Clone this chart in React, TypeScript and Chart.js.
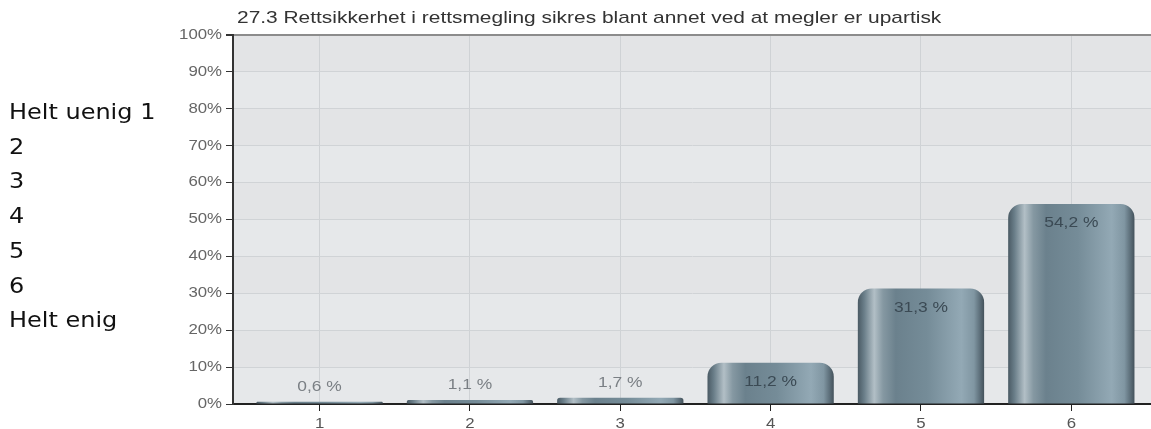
import React, { useEffect, useRef } from "react";
import { Chart, registerables } from "chart.js";

Chart.register(...registerables);

const titleText = "27.3 Rettsikkerhet i rettsmegling sikres blant annet ved at megler er upartisk";
const sideLabels = ["Helt uenig 1", "2", "3", "4", "5", "6", "Helt enig"];
const categories = [1, 2, 3, 4, 5, 6];
const xTickLabels = ["1", "2", "3", "4", "5", "6"];
const values = [0.6, 1.1, 1.7, 11.2, 31.3, 54.2];
const yTicks = [0, 10, 20, 30, 40, 50, 60, 70, 80, 90, 100];

const BAR_PCT = 0.84;
const SX = 1.2;
const FONT = "'Liberation Sans', Arial, sans-serif";

function drawStretched(ctx: any, text: string, x: number, y: number, align: string, sx: number) {
  ctx.save();
  ctx.translate(x, y);
  ctx.scale(sx, 1);
  ctx.textAlign = align;
  ctx.textBaseline = "middle";
  ctx.fillText(text, 0, 0);
  ctx.restore();
}

const bgPlugin = {
  id: "bgBands",
  beforeDraw(chart: any) {
    const { ctx, chartArea } = chart;
    const ys = chart.scales.y;
    ctx.save();
    for (let i = 0; i < yTicks.length - 1; i++) {
      const y1 = ys.getPixelForValue(yTicks[i + 1]);
      const y0 = ys.getPixelForValue(yTicks[i]);
      ctx.fillStyle = i % 2 === 0 ? "#e6e8ea" : "#e3e4e6";
      ctx.fillRect(chartArea.left, y1, chartArea.right - chartArea.left, y0 - y1);
    }
    ctx.restore();
  },
};

const textPlugin = {
  id: "texts",
  afterDraw(chart: any) {
    const { ctx, chartArea } = chart;
    const xs = chart.scales.x;
    const ys = chart.scales.y;
    ctx.save();
    // title
    ctx.font = "17px " + FONT;
    ctx.fillStyle = "#333";
    drawStretched(ctx, titleText, chartArea.left + 4, 18, "left", 1.23);
    // y tick labels
    ctx.font = "14px " + FONT;
    ctx.fillStyle = "#666";
    yTicks.forEach((v) => {
      drawStretched(ctx, v + "%", chartArea.left - 11, ys.getPixelForValue(v), "right", SX);
    });
    // x tick labels
    ctx.fillStyle = "#555";
    categories.forEach((c, i) => {
      drawStretched(ctx, xTickLabels[i], xs.getPixelForValue(c), chartArea.bottom + 20, "center", SX);
    });
    ctx.restore();
  },
};

const labelPlugin = {
  id: "valueLabels",
  afterDatasetsDraw(chart: any) {
    const { ctx } = chart;
    const meta = chart.getDatasetMeta(0);
    ctx.save();
    ctx.font = "14.5px " + FONT;
    meta.data.forEach((el: any, i: number) => {
      const txt = values[i].toFixed(1).replace(".", ",") + " %";
      const h = el.base - el.y;
      if (h > 30) {
        ctx.fillStyle = "#3b4a54";
        drawStretched(ctx, txt, el.x, el.y + 19, "center", SX);
      } else {
        ctx.fillStyle = "#7a7f84";
        drawStretched(ctx, txt, el.x, el.y - 15, "center", SX);
      }
    });
    ctx.restore();
  },
};

function barFill(c: any) {
  const chart = c.chart;
  const xs = chart.scales && chart.scales.x;
  if (!xs || c.type !== "data" || !chart.chartArea) return "#6f8693";
  const xv = c.raw && typeof c.raw === "object" ? c.raw.x : categories[c.dataIndex];
  const cx = xs.getPixelForValue(xv);
  const w = (xs.getPixelForValue(2) - xs.getPixelForValue(1)) * BAR_PCT;
  const l = cx - w / 2;
  const g = chart.ctx.createLinearGradient(l, 0, l + w, 0);
  g.addColorStop(0, "#4a5a64");
  g.addColorStop(0.05, "#6a7e89");
  g.addColorStop(0.13, "#b2bfc6");
  g.addColorStop(0.2, "#8598a2");
  g.addColorStop(0.3, "#6b818d");
  g.addColorStop(0.55, "#758c98");
  g.addColorStop(0.82, "#93a9b5");
  g.addColorStop(0.92, "#8096a2");
  g.addColorStop(0.97, "#5a6c77");
  g.addColorStop(1, "#44525b");
  return g;
}

export default function App() {
  const ref = useRef<HTMLCanvasElement | null>(null);

  useEffect(() => {
    if (!ref.current) return;
    const chart = new Chart(ref.current, {
      type: "bar",
      data: {
        datasets: [
          {
            data: categories.map((c, i) => ({ x: c, y: values[i] })),
            backgroundColor: barFill,
            borderWidth: 0,
            borderRadius: 14,
            borderSkipped: "bottom",
            barPercentage: BAR_PCT,
            categoryPercentage: 1,
          } as any,
        ],
      },
      options: {
        responsive: false,
        animation: false,
        layout: { padding: { top: 35, right: 0, left: 0, bottom: 0 } },
        plugins: { legend: { display: false }, tooltip: { enabled: false }, title: { display: false } },
        scales: {
          x: {
            type: "linear",
            offset: false,
            min: 0.424,
            max: 6.53,
            afterBuildTicks: (s: any) => {
              s.ticks = categories.map((v) => ({ value: v }));
            },
            afterFit: (s: any) => {
              s.height = 25;
            },
            ticks: { display: false },
            grid: { offset: false, color: "#cfd2d5", tickColor: "#222", tickLength: 7, drawTicks: true },
            border: { color: "#222", width: 2 },
          },
          y: {
            min: 0,
            max: 100,
            afterBuildTicks: (s: any) => {
              s.ticks = yTicks.map((v) => ({ value: v }));
            },
            afterFit: (s: any) => {
              s.width = 233;
            },
            ticks: { display: false },
            grid: {
              color: (c: any) => (c.tick && c.tick.value === 100 ? "#8c8c8c" : "#d0d3d6"),
              lineWidth: (c: any) => (c.tick && c.tick.value === 100 ? 2 : 1),
              tickColor: "#333",
              tickLength: 7,
            },
            border: { color: "#333", width: 2 },
          },
        },
      } as any,
      plugins: [bgPlugin, labelPlugin, textPlugin],
    });
    return () => chart.destroy();
  }, []);

  return (
    <div style={{ position: "absolute", left: 0, top: 0, width: 1151, height: 429 }}>
      <canvas ref={ref} width={1151} height={429} style={{ position: "absolute", left: 0, top: 0 }} />
      <div
        style={{
          position: "absolute",
          left: 9,
          top: 95,
          fontFamily: "'DejaVu Sans', Verdana, sans-serif",
          fontSize: 22,
          lineHeight: "34.7px",
          color: "#111",
          whiteSpace: "nowrap",
          transform: "scaleX(1.09)",
          transformOrigin: "left top",
        }}
      >
        {sideLabels.map((s) => (
          <div key={s}>{s}</div>
        ))}
      </div>
    </div>
  );
}
